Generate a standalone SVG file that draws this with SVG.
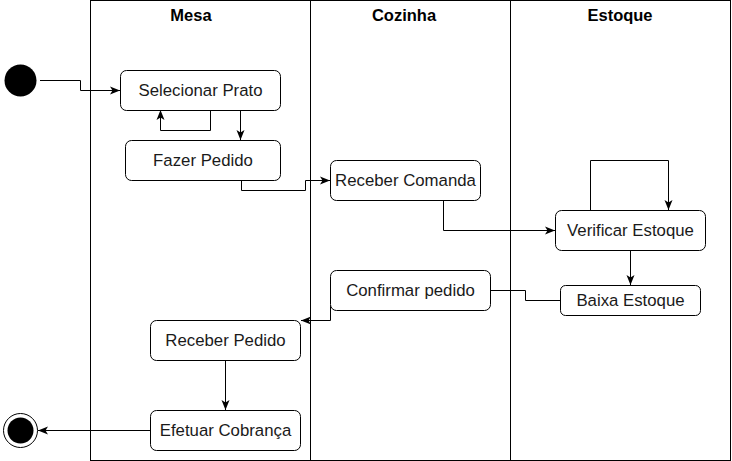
<svg xmlns="http://www.w3.org/2000/svg" width="732" height="461" viewBox="0 0 732 461">
<defs>
<style>
.lane{fill:none;stroke:#000;stroke-width:1}
.hdr{font-family:"Liberation Sans",Arial,sans-serif;font-size:16.5px;font-weight:bold;text-anchor:middle;fill:#000}
.box{fill:#fff;stroke:#000;stroke-width:1}
.lbl{font-family:"Liberation Sans",Arial,sans-serif;font-size:16.8px;text-anchor:middle;dominant-baseline:central;fill:#1a1a1a}
.edge{fill:none;stroke:#000;stroke-width:1}
</style>
<marker id="arr" viewBox="0 0 10 10" refX="10" refY="5" markerWidth="10" markerHeight="10" markerUnits="userSpaceOnUse" orient="auto">
<path d="M0,1 L10,5 L0,9 L2.5,5 Z" fill="#000"/>
</marker>
</defs>
<g id="pool">
<rect class="lane" x="90.5" y="0.5" width="640" height="460"/>
<line class="lane" x1="310.5" y1="0.5" x2="310.5" y2="460.5"/>
<line class="lane" x1="510.5" y1="0.5" x2="510.5" y2="460.5"/>
<text class="hdr" x="191" y="21">Mesa</text>
<text class="hdr" x="404" y="21">Cozinha</text>
<text class="hdr" x="620" y="21">Estoque</text>
</g>
<g id="edges">
<path class="edge" d="M40,80.5 H80.5 V90.5 H120" marker-end="url(#arr)"/>
<path class="edge" d="M210.5,110 V130.5 H160.5 V110" marker-end="url(#arr)"/>
<path class="edge" d="M240.5,110 V140" marker-end="url(#arr)"/>
<path class="edge" d="M241.5,180 V190.5 H305.5 V180.5 H330" marker-end="url(#arr)"/>
<path class="edge" d="M443.5,200 V230.5 H555" marker-end="url(#arr)"/>
<path class="edge" d="M590.5,210 V160.5 H668.5 V210" marker-end="url(#arr)"/>
<path class="edge" d="M630.5,250 V285" marker-end="url(#arr)"/>
<path class="edge" d="M560,300.5 H525.5 V290.5 H490"/>
<path class="edge" d="M330.5,305 V320.5 H301" marker-end="url(#arr)"/>
<path class="edge" d="M225.5,360 V410" marker-end="url(#arr)"/>
<path class="edge" d="M150,430.5 H38" marker-end="url(#arr)"/>
</g>
<g id="start"><circle cx="20.5" cy="80.5" r="16" fill="#000"/></g>
<g id="end"><circle cx="20.5" cy="430.5" r="17" fill="#fff" stroke="#000"/><circle cx="20.5" cy="430.5" r="13" fill="#000"/></g>
<g id="selecionar"><rect class="box" x="120.5" y="70.5" width="160" height="40" rx="6"/><text class="lbl" x="200.5" y="90.5">Selecionar Prato</text></g>
<g id="fazer"><rect class="box" x="125.5" y="140.5" width="155" height="40" rx="6"/><text class="lbl" x="203" y="160.5">Fazer Pedido</text></g>
<g id="receberComanda"><rect class="box" x="330.5" y="160.5" width="150" height="40" rx="6"/><text class="lbl" x="405.5" y="180.5">Receber Comanda</text></g>
<g id="verificar"><rect class="box" x="555.5" y="210.5" width="150" height="40" rx="6"/><text class="lbl" x="630.5" y="230.5">Verificar Estoque</text></g>
<g id="baixa"><rect class="box" x="560.5" y="285.5" width="140" height="30" rx="5"/><text class="lbl" x="630.5" y="300.5">Baixa Estoque</text></g>
<g id="confirmar"><rect class="box" x="330.5" y="270.5" width="160" height="40" rx="6"/><text class="lbl" x="410.5" y="290.5">Confirmar pedido</text></g>
<g id="receberPedido"><rect class="box" x="150.5" y="320.5" width="150" height="40" rx="6"/><text class="lbl" x="225.5" y="340.5">Receber Pedido</text></g>
<g id="efetuar"><rect class="box" x="150.5" y="410.5" width="150" height="40" rx="6"/><text class="lbl" x="225.5" y="430.5">Efetuar Cobrança</text></g>
</svg>
